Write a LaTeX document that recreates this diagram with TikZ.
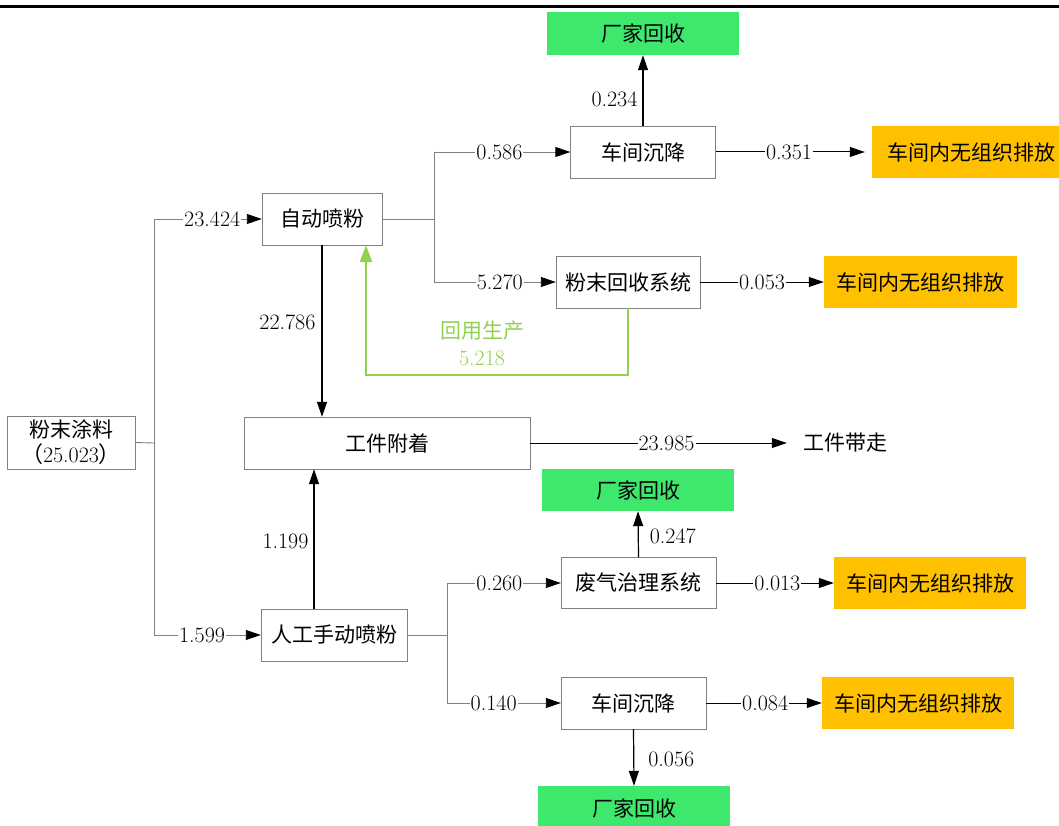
\documentclass[tikz,border=0pt]{standalone}
\usepackage{fontspec}
\newfontfamily\cjk{Noto Sans CJK SC}
\usetikzlibrary{arrows.meta}
\definecolor{plantgreen}{RGB}{61,232,109}
\definecolor{emitorange}{RGB}{255,192,0}
\definecolor{reusegreen}{RGB}{146,208,80}

\begin{document}
\begin{tikzpicture}[x=1pt, y=-1pt,
  box/.style={draw=gray, minimum height=52pt, inner sep=0pt,
    font=\cjk\fontsize{21}{25}\selectfont},
  greenbox/.style={box, draw=none, fill=plantgreen, minimum width=192pt, minimum height=43pt},
  orangebox/.style={box, draw=none, fill=emitorange, minimum width=193pt},
  num/.style={fill=white, inner sep=1pt, font=\fontsize{22}{26}\selectfont},
  side/.style={num, fill=none},
  flow/.style={draw=gray, line width=0.9pt},
  feed/.style={flow, -{Triangle[length=15pt,width=10pt,color=black]}},
  arrow/.style={draw=black, line width=1.2pt, -{Triangle[length=15pt,width=10pt]}}]
  \useasboundingbox (0,0) rectangle (1059,826);

  % Top rule
  \draw[line width=3pt] (0,7) -- (1059,7);

  % Source and main stages
  \node[box, minimum width=128pt, minimum height=53pt, align=center,
    font=\fontsize{22}{25}\selectfont] (feed) at (71,442.5) {{\cjk\fontsize{21}{25}\selectfont 粉末涂料}\\{\cjk （}25.023{\cjk ）}};
  \node[box, minimum width=120pt] (auto) at (322,219) {自动喷粉};
  \node[box, minimum width=146pt] (manual) at (334,635) {人工手动喷粉};
  \node[box, minimum width=286pt] (work) at (387,443) {工件附着};
  \node[inner sep=0pt, font=\cjk\fontsize{21}{25}\selectfont] (carry) at (845,443) {工件带走};

  % Automatic line
  \node[box, minimum width=145pt] (settleA) at (643,152) {车间沉降};
  \node[box, minimum width=144pt] (recycA) at (628,282) {粉末回收系统};
  \node[greenbox] (plantA) at (643,33.5) {厂家回收};
  \node[orangebox, minimum width=198pt] (emitA) at (971,152) {车间内无组织排放};
  \node[orangebox] (emitB) at (920.5,282) {车间内无组织排放};

  % Manual line
  \node[box, minimum width=155pt, minimum height=51pt] (gas) at (638.5,583) {废气治理系统};
  \node[box, minimum width=145pt] (settleB) at (633.5,703) {车间沉降};
  \node[greenbox, minimum height=42pt] (plantB) at (638,490) {厂家回收};
  \node[greenbox, minimum height=44pt] (plantC) at (634,808) {厂家回收};
  \node[orangebox, minimum width=192pt] (emitC) at (930,583) {车间内无组织排放};
  \node[orangebox, minimum width=192pt] (emitD) at (918,703) {车间内无组织排放};

  % Branch points
  \coordinate (j0) at (154,443);
  \coordinate (j1) at (154,219);
  \coordinate (j2) at (154,635);
  \coordinate (k0) at (434,219);
  \coordinate (k1) at (434,152);
  \coordinate (k2) at (434,282);
  \coordinate (m0) at (447,635);
  \coordinate (m1) at (447,583);
  \coordinate (m2) at (447,703);
  \coordinate (g) at (366,375);

  \draw[flow] (feed.east) -- (j0);
  \draw[flow] (j1) -- (j2);
  \draw[feed] (j1) -- node[num, pos=0.54] {23.424} (auto.west);
  \draw[feed] (j2) -- node[num, pos=0.45] {1.599} (manual.west);

  \draw[flow] (auto.east) -- (k0);
  \draw[flow] (k1) -- (k2);
  \draw[feed] (k1) -- node[num, pos=0.48] {0.586} (settleA.west);
  \draw[feed] (k2) -- node[num, pos=0.54] {5.270} (recycA.west);
  \draw[arrow] (settleA.north) -- node[side, left=4pt, pos=0.37] {0.234} (plantA.south);
  \draw[arrow, line width=1pt, shorten >=7pt] (settleA.east) -- node[num, pos=0.47] {0.351} (emitA.west);
  \draw[arrow, line width=1pt] (recycA.east) -- node[num, pos=0.5] {0.053} (emitB.west);

  % Reuse loop
  \draw[reusegreen, line width=2.5pt, -{Triangle[length=17pt,width=12pt]}]
    (recycA.south) |- (g) -- (g |- auto.south);
  \node[text=reusegreen, align=center, font=\fontsize{22}{27}\selectfont] (reuse) at (482,343)
    {{\cjk\fontsize{21}{27}\selectfont 回用生产}\\5.218};

  \draw[arrow] (auto.south) -- node[side, left=5pt, pos=0.45] {22.786} (auto.south |- work.north);
  \draw[arrow] ([xshift=-20pt]manual.north) -- node[side, left=4pt, pos=0.48] {1.199}
    ([xshift=-20pt]manual.north |- work.south);
  \draw[arrow, line width=1pt, shorten >=16pt] (work.east) -- node[num, pos=0.5] {23.985} (carry.west);

  \draw[flow] (manual.east) -- (m0);
  \draw[flow] (m1) -- (m2);
  \draw[feed] (m1) -- node[num, pos=0.46] {0.260} (gas.west);
  \draw[feed] (m2) -- node[num, pos=0.41] {0.140} (settleB.west);
  \draw[arrow] (gas.north) -- node[side, right=10pt, pos=0.45] {0.247} (plantB.south);
  \draw[arrow, line width=1pt] (gas.east) -- node[num, pos=0.52] {0.013} (emitC.west);
  \draw[arrow, line width=1pt] (settleB.east) -- node[num, pos=0.51] {0.084} (emitD.west);
  \draw[arrow] (settleB.south) -- node[side, right=13pt, pos=0.54] {0.056} (plantC.north);
\end{tikzpicture}
\end{document}
